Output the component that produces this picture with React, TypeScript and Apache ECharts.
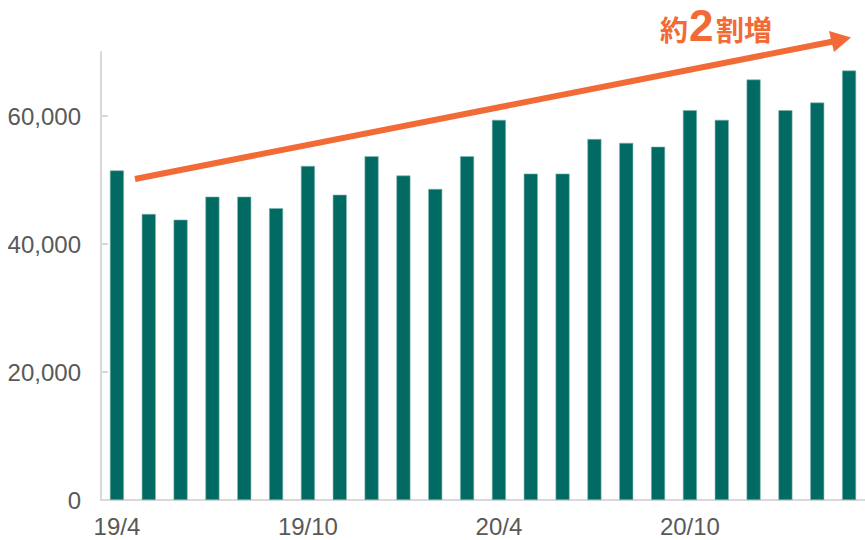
import React, { useEffect, useRef } from "react";
import * as echarts from "echarts";

const categories = [
  "19/4", "19/5", "19/6", "19/7", "19/8", "19/9", "19/10", "19/11", "19/12", "20/1", "20/2", "20/3",
  "20/4", "20/5", "20/6", "20/7", "20/8", "20/9", "20/10", "20/11", "20/12", "21/1", "21/2", "21/3",
];
const values = [
  51500, 44700, 43800, 47400, 47400, 45600, 52200, 47700, 53700, 50700, 48600, 53700,
  59400, 51000, 51000, 56400, 55800, 55200, 60900, 59400, 65700, 60900, 62100, 67100,
];
const yTicks = [0, 20000, 40000, 60000];
const annotationParts = ["約", "2", "割増"];

const ORANGE = "#F26A35";
const TEAL = "#006A63";
const AXIS = "#D9D9D9";
const LABEL = "#595959";
const FONT = "'Liberation Sans', Arial, sans-serif";
const CJK = "'Noto Sans CJK JP', 'Noto Sans CJK SC', sans-serif";

export default function App() {
  const ref = useRef<HTMLDivElement>(null);
  useEffect(() => {
    document.body.style.margin = "0";
    if (!ref.current) return;
    const chart = echarts.init(ref.current, undefined, { renderer: "svg" });
    chart.setOption({
      animation: false,
      backgroundColor: "#ffffff",
      grid: { left: 101, top: 52, width: 772, height: 448, containLabel: false },
      xAxis: {
        type: "category",
        data: categories,
        axisLine: { show: true, lineStyle: { color: AXIS, width: 2 } },
        axisTick: { show: false },
        axisLabel: { interval: 5, color: LABEL, fontSize: 24, fontFamily: FONT, margin: 14 },
        splitLine: { show: false },
      },
      yAxis: {
        type: "value",
        min: 0,
        max: 70000,
        axisLine: { show: true, lineStyle: { color: AXIS, width: 2 } },
        axisTick: { show: true, inside: true, length: 7, lineStyle: { color: AXIS, width: 2 }, customValues: yTicks },
        axisLabel: {
          customValues: yTicks,
          color: LABEL,
          fontSize: 24,
          fontFamily: FONT,
          margin: 20,
          formatter: (v: number) => v.toLocaleString("en-US"),
        },
        splitLine: { show: false },
      },
      series: [
        {
          type: "bar",
          data: values,
          barWidth: 14,
          itemStyle: { color: TEAL, borderColor: "#7FB3AE", borderWidth: 0.6 },
        },
      ],
      graphic: [
        {
          type: "line",
          shape: { x1: 135, y1: 179, x2: 833, y2: 41.5 },
          style: { stroke: ORANGE, lineWidth: 6 },
          z: 10,
        },
        {
          type: "polygon",
          shape: { points: [[829, 31], [851, 37.5], [834, 52]] },
          style: { fill: ORANGE },
          z: 10,
        },
        {
          type: "text",
          x: 660,
          y: 29,
          style: { text: annotationParts[0], fill: ORANGE, fontSize: 28, fontWeight: "bold", fontFamily: CJK, verticalAlign: "middle", align: "left" },
          z: 10,
        },
        {
          type: "text",
          x: 689,
          y: 25,
          style: { text: annotationParts[1], fill: ORANGE, fontSize: 44, fontWeight: "bold", fontFamily: FONT, verticalAlign: "middle", align: "left" },
          z: 10,
        },
        {
          type: "text",
          x: 716,
          y: 29,
          style: { text: annotationParts[2], fill: ORANGE, fontSize: 28, fontWeight: "bold", fontFamily: CJK, verticalAlign: "middle", align: "left" },
          z: 10,
        },
      ],
    });
    return () => chart.dispose();
  }, []);
  return <div ref={ref} style={{ width: 865, height: 540 }} />;
}
